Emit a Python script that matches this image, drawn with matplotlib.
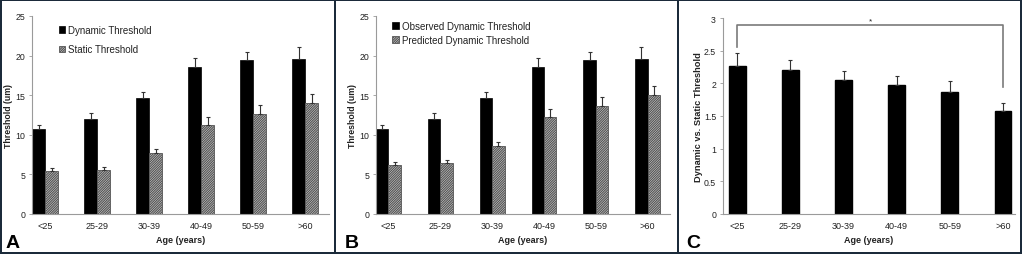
import matplotlib
matplotlib.use('Agg')
import matplotlib.pyplot as plt
from matplotlib.lines import Line2D
import numpy as np

plt.rcParams['font.family'] = ['Liberation Sans', 'DejaVu Sans']
plt.rcParams['hatch.linewidth'] = 0.9

ages = ['<25', '25-29', '30-39', '40-49', '50-59', '>60']

dynamic = [10.7, 12.0, 14.6, 18.5, 19.4, 19.6]
dynamic_err = [0.6, 0.7, 0.8, 1.2, 1.1, 1.5]
static = [5.4, 5.6, 7.7, 11.3, 12.6, 14.0]
static_err = [0.4, 0.3, 0.5, 1.0, 1.2, 1.1]
predicted = [6.2, 6.5, 8.6, 12.2, 13.6, 15.0]
predicted_err = [0.4, 0.3, 0.5, 1.1, 1.2, 1.1]
ratio = [2.27, 2.21, 2.05, 1.97, 1.87, 1.58]
ratio_err = [0.20, 0.15, 0.14, 0.14, 0.16, 0.12]

W, H = 1022, 255
fig = plt.figure(figsize=(W / 100, H / 100), dpi=100)
fig.patch.set_facecolor('white')

AXIS_GRAY = '#9a9a9a'
TXT = '#222222'
HATCH = '#555555'


def px_axes(left, right, top, bottom):
	ax = fig.add_axes([left / W, 1 - bottom / H, (right - left) / W, (bottom - top) / H])
	ax._px = (left, right)
	return ax


def style(ax, ymax, ystep, ylabel, xlim, label_x, label_size=6.3):
	for s in ['top', 'right']:
		ax.spines[s].set_visible(False)
	for s in ['left', 'bottom']:
		ax.spines[s].set_color(AXIS_GRAY)
		ax.spines[s].set_linewidth(0.8)
	ax.set_ylim(0, ymax)
	ax.set_yticks(np.arange(0, ymax + ystep / 2, ystep))
	ax.set_yticklabels(['%g' % v for v in np.arange(0, ymax + ystep / 2, ystep)])
	ax.set_xlim(*xlim)
	ax.set_xticks(range(len(ages)))
	ax.set_xticklabels(ages)
	ax.tick_params(axis='y', direction='out', length=2, width=0.6, color=AXIS_GRAY,
				   labelsize=6.3, labelcolor=TXT, pad=3)
	ax.tick_params(axis='x', length=0, labelsize=6.5, labelcolor=TXT, pad=5)
	ax.set_ylabel(ylabel, fontsize=label_size, fontweight='bold', color=TXT)
	left, right = ax._px
	ax.yaxis.set_label_coords((label_x - left) / (right - left), 0.5)
	ax.set_xlabel('Age (years)', fontsize=6.5, fontweight='bold', color=TXT, labelpad=4)


def grouped(ax, a, a_err, b, b_err, labels, w):
	x = np.arange(len(ages))
	ax.bar(x - w / 2, a, w, color='black', edgecolor='black', linewidth=0.5,
		   yerr=[[0] * len(a), a_err], capsize=1.5,
		   error_kw=dict(ecolor='#333333', elinewidth=0.8, capthick=0.8), label=labels[0])
	ax.bar(x + w / 2, b, w, color='#f2f2f2', edgecolor=HATCH, linewidth=0.6, hatch='/' * 14,
		   yerr=[[0] * len(b), b_err], capsize=1.5,
		   error_kw=dict(ecolor='#333333', elinewidth=0.8, capthick=0.8), label=labels[1])


# panel A
axA = px_axes(32, 329, 17, 215)
grouped(axA, dynamic, dynamic_err, static, static_err, ['Dynamic Threshold', 'Static Threshold'], 0.25)
style(axA, 25, 5, 'Threshold (um)', (-0.25, 5.46), 13)
axA.legend(loc='upper left', bbox_to_anchor=(0.06, 1.0), frameon=False, fontsize=7,
		   handlelength=0.7, handleheight=0.7, handletextpad=0.3, labelspacing=1.0,
		   labelcolor=TXT)

# panel B
axB = px_axes(376, 670, 17, 215)
grouped(axB, dynamic, dynamic_err, predicted, predicted_err,
		['Observed Dynamic Threshold', 'Predicted Dynamic Threshold'], 0.24)
style(axB, 25, 5, 'Threshold (um)', (-0.24, 5.43), 357)
axB.legend(loc='upper left', bbox_to_anchor=(0.025, 1.02), frameon=False, fontsize=7,
		   handlelength=0.7, handleheight=0.7, handletextpad=0.3, labelspacing=0.45,
		   labelcolor=TXT)

# panel C
axC = px_axes(723, 1015, 19, 215)
xc = np.arange(len(ages))
axC.bar(xc, ratio, 0.31, color='black', edgecolor='black',
		yerr=[[0] * len(ratio), ratio_err], capsize=1.5,
		error_kw=dict(ecolor='#333333', elinewidth=0.8, capthick=0.8))
style(axC, 3, 0.5, 'Dynamic vs. Static Threshold', (-0.27, 5.23), 703, label_size=6.7)
axC.plot([0, 0, 5, 5], [2.56, 2.89, 2.89, 1.94], color='#7a7a7a', lw=1.2, clip_on=False)
axC.text(2.5, 2.9, '*', ha='center', va='bottom', fontsize=6, color=TXT)

# panel letters
for x, letter in [(6, 'A'), (345, 'B'), (686, 'C')]:
	fig.text(x / W, 1 - 248 / H, letter, fontsize=14, fontweight='bold', color='black')

# dark frames around the panels
FRAME = '#1b2a3a'
lw = 2 * 0.72
for xp in [1, 335, 678, 1021]:
	fig.add_artist(Line2D([xp / W, xp / W], [0, 1], color=FRAME, lw=lw, transform=fig.transFigure))
for yp in [1, 254]:
	fig.add_artist(Line2D([0, 1], [1 - yp / H, 1 - yp / H], color=FRAME, lw=lw, transform=fig.transFigure))

fig.savefig('out.png', dpi=100)
